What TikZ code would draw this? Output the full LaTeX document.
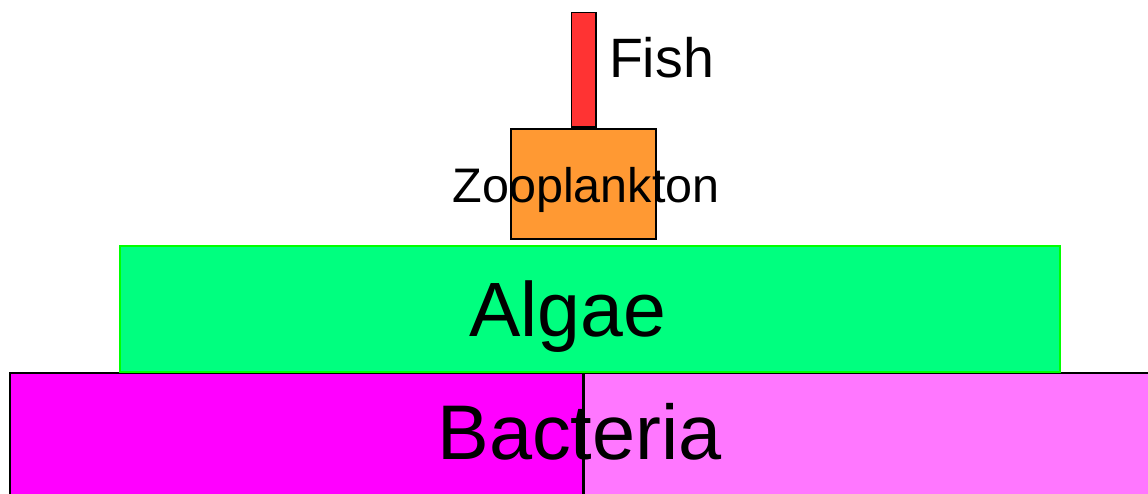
\documentclass[tikz,border=0pt]{standalone}
\usepackage{fontspec}
\setmainfont{Liberation Sans}
\definecolor{fishred}{HTML}{FF3333}
\definecolor{zooorange}{HTML}{FF9933}
\definecolor{algaegreen}{HTML}{00FF7F}
\definecolor{algaeborder}{HTML}{00FF00}
\definecolor{bactleft}{HTML}{FF00FF}
\definecolor{bactright}{HTML}{FF77FF}
\begin{document}
\begin{tikzpicture}[x=1pt,y=-1pt,
  blk/.style={draw=black,line width=1.8pt},
  lbl/.style={anchor=base,inner sep=0pt,text=black}]
\useasboundingbox (0,0) rectangle (1148,493);
\begin{scope}
\clip (0,0) rectangle (1148,493);
\draw[blk,fill=bactright] (584,373) rectangle (1160,510);
\draw[blk,fill=bactleft] (10,373) rectangle (583,510);
\draw[draw=algaeborder,line width=2pt,fill=algaegreen] (119.5,245.5) rectangle (1060,371.5);
\draw[blk,fill=zooorange] (511,129) rectangle (656,239);
\draw[blk,fill=fishred] (571.5,12.5) rectangle (596,127);
\end{scope}
\node[lbl,font=\fontsize{55.5}{55.5}\selectfont] (fish) at (661.5,77) {Fish};
\node[lbl,font=\fontsize{48.5}{48.5}\selectfont] (zoo) at (586,202) {Zooplankton};
\node[lbl,font=\fontsize{77}{77}\selectfont] (algae) at (568,336) {Algae};
\node[lbl,font=\fontsize{77.5}{77.5}\selectfont] (bact) at (579.5,459) {Bacteria};
\end{tikzpicture}
\end{document}
